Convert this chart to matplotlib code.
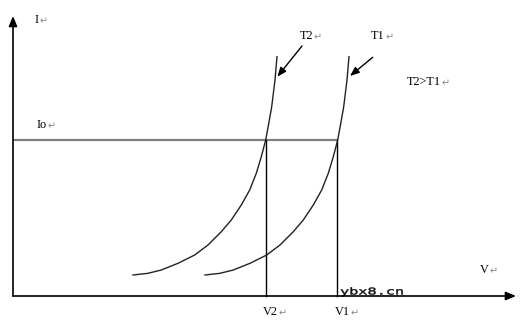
import matplotlib
matplotlib.use("Agg")
import matplotlib.pyplot as plt
from matplotlib.textpath import TextPath
from matplotlib.patches import PathPatch
from matplotlib.font_manager import FontProperties
from matplotlib.transforms import Affine2D

# ---- data (V, I coordinates; origin at axis crossing) ----
curve_T2_v = [120.0, 135.0, 148.3, 165.0, 181.7, 195.0, 208.3, 218.3, 228.3,
              236.7, 243.3, 248.3, 252.7, 256.0, 258.7, 262.0, 264.0]
curve_T1_v = [192.0, 207.0, 220.3, 237.0, 253.7, 267.0, 280.3, 290.3, 300.3,
              308.7, 315.3, 320.3, 324.7, 328.0, 330.7, 334.0, 336.0]
curve_i    = [21.0, 22.7, 26.0, 32.7, 41.0, 51.0, 64.3, 76.0, 91.0,
              106.0, 122.7, 139.3, 156.0, 174.0, 189.3, 216.0, 239.3]
Io = 156.0
V2 = 252.7
V1 = 324.0
axis_v_end = 503.0
axis_i_end = 280.0

labels = {
    "I": (22, 273), "Io": (23.5, 168), "T2": (287, 257), "T1": (358, 257),
    "T2>T1": (394, 211), "V": (467, 23), "V2": (250, -19), "V1": (322, -19),
}
arrow_T2 = ((289, 250), (264.3, 219.3))
arrow_T1 = ((359.7, 238.7), (337, 220))
watermark = "ybx8.cn"

fig = plt.figure(figsize=(5.22, 3.22), dpi=100)
ax = fig.add_axes([0, 0, 1, 1])
ax.set_xlim(-13, 509)
ax.set_ylim(-26, 296)
ax.axis("off")

# axes with arrow heads
ax.annotate("", xy=(0, axis_i_end), xytext=(0, 0),
            arrowprops=dict(arrowstyle="-|>,head_length=0.6,head_width=0.25",
                            lw=1.2, color="black", shrinkA=0, shrinkB=0))
ax.annotate("", xy=(axis_v_end, 0), xytext=(0, 0),
            arrowprops=dict(arrowstyle="-|>,head_length=0.6,head_width=0.25",
                            lw=1.2, color="black", shrinkA=0, shrinkB=0))

# Io line
ax.plot([0, V1], [Io, Io], color="#808080", lw=1.6, solid_capstyle="butt")
# vertical lines
ax.plot([V2, V2], [0, Io], color="black", lw=1.0)
ax.plot([V1, V1], [0, Io], color="black", lw=1.0)
# curves
ax.plot(curve_T2_v, curve_i, color="#222222", lw=1.0)
ax.plot(curve_T1_v, curve_i, color="#222222", lw=1.0)

# pointer arrows
for (s, t) in (arrow_T2, arrow_T1):
    ax.annotate("", xy=t, xytext=s,
                arrowprops=dict(arrowstyle="-|>,head_length=0.55,head_width=0.22",
                                lw=1.0, color="black", shrinkA=0, shrinkB=0))

fam = ["Liberation Serif", "DejaVu Serif", "DejaVu Sans"]
for txt, (x, y) in labels.items():
    t = ax.text(x, y, txt, fontsize=8.8, family=fam, va="baseline", ha="left",
                color="black")
    ax.annotate("\u21b5", xy=(1, 0), xycoords=t, xytext=(0.3, -0.5),
                textcoords="offset points", fontsize=7, color="#8a8a8a",
                family=["DejaVu Sans"], va="bottom", ha="left")

# watermark: wide, low monospace text
tp = TextPath((0, 0), watermark, size=10.5,
              prop=FontProperties(family="DejaVu Sans Mono"))
tr = Affine2D().scale(1.45, 0.9).translate(327, 1.5) + ax.transData
ax.add_patch(PathPatch(tp, transform=tr, facecolor="#111111", edgecolor="#111111",
                       lw=0.3))

fig.savefig("out.png", dpi=100)
